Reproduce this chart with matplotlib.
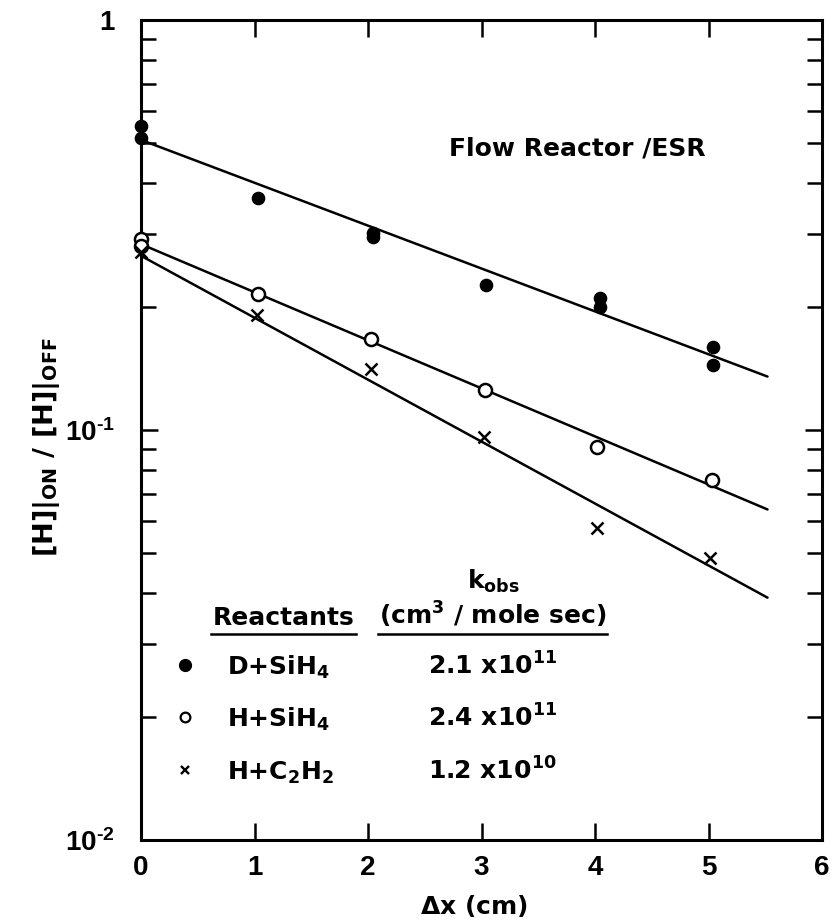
import matplotlib
matplotlib.use("Agg")
import matplotlib.pyplot as plt
from matplotlib.lines import Line2D

plt.rcParams['font.family'] = ['DejaVu Sans']
plt.rcParams['font.weight'] = 'bold'
plt.rcParams['mathtext.fontset'] = 'custom'
plt.rcParams['mathtext.rm'] = 'Liberation Sans:bold'
plt.rcParams['mathtext.bf'] = 'Liberation Sans:bold'
plt.rcParams['mathtext.it'] = 'Liberation Sans:bold'
plt.rcParams['mathtext.default'] = 'bf'

# ---- data ----
x_d_sih4 = [0, 0, 1.03, 2.04, 2.04, 3.04, 4.04, 4.04, 5.04, 5.04]
y_d_sih4 = [0.55, 0.515, 0.368, 0.303, 0.295, 0.226, 0.210, 0.200, 0.159, 0.144]

x_h_sih4 = [0, 0, 1.03, 2.03, 3.03, 4.02, 5.03]
y_h_sih4 = [0.292, 0.281, 0.215, 0.167, 0.125, 0.091, 0.0755]

x_h_c2h2 = [0, 1.02, 2.03, 3.02, 4.02, 5.01]
y_h_c2h2 = [0.272, 0.191, 0.141, 0.0960, 0.0578, 0.0488]

# fitted lines (endpoints)
fit_x = [0, 5.52]
fit_d_sih4 = [0.510, 0.135]
fit_h_sih4 = [0.284, 0.0640]
fit_h_c2h2 = [0.266, 0.0390]

reactants = [r'D+SiH$_4$', r'H+SiH$_4$', r'H+C$_2$H$_2$']
kobs = [r'2.1 x10$^{11}$', r'2.4 x10$^{11}$', r'1.2 x10$^{10}$']

y_ticks = [0.01, 0.1, 1]
y_ticklabels = [r'10$^{\text{-}2}$', r'10$^{\text{-}1}$', '1']
x_ticks = [0, 1, 2, 3, 4, 5, 6]

fig = plt.figure(figsize=(8.32, 9.24), dpi=100)
ax = fig.add_axes([141/832, 1-840/924, (822-141)/832, (840-20)/924])

ax.set_yscale('log')
ax.set_xlim(0, 6)
ax.set_ylim(0.01, 1)

lc = 'black'
for fy_ in (fit_d_sih4, fit_h_sih4, fit_h_c2h2):
    ax.plot(fit_x, fy_, color=lc, lw=1.8, solid_capstyle='round', zorder=2)

ax.plot(x_d_sih4, y_d_sih4, 'o', color='black', ms=8.8, zorder=3, clip_on=False)
ax.plot(x_h_sih4, y_h_sih4, 'o', mfc='white', mec='black', mew=1.8, ms=9.4, zorder=3, clip_on=False)
ax.plot(x_h_c2h2, y_h_c2h2, 'x', color='black', mew=1.8, ms=8, zorder=3, clip_on=False)

for s in ax.spines.values():
    s.set_linewidth(2.2)

ax.set_yticks(y_ticks)
ax.set_yticklabels(y_ticklabels)
ax.set_xticks(x_ticks)
ax.tick_params(axis='both', which='major', direction='in', length=12, width=1.8,
               top=True, right=True, labelsize=20)
ax.tick_params(axis='y', which='minor', direction='in', length=10.5, width=1.8,
               left=True, right=True)
ax.tick_params(axis='x', which='major', pad=11)
ax.tick_params(axis='y', which='major', pad=19)
for lab in ax.get_xticklabels() + ax.get_yticklabels():
    lab.set_fontweight('bold')
    lab.set_fontfamily('Liberation Sans')

ax.set_xlabel(r'$\Delta$x (cm)', fontsize=18, fontweight='bold')
ax.xaxis.set_label_coords((474 - 141) / 681, -(893 - 840) / 820)
ax.xaxis.label.set_math_fontfamily('dejavusans')
ax.set_ylabel(r'[H]$|_{\mathrm{ON}}$ / [H]$|_{\mathrm{OFF}}$', fontsize=19.5,
              fontweight='bold')
ax.yaxis.label.set_math_fontfamily('dejavusans')
ax.yaxis.set_label_coords((62 - 141) / 681, (840 - 447) / 820)

def fx(px):
    return px / 832
def fy(py):
    return 1 - py / 924

fig.text(fx(577), fy(148), 'Flow Reactor /ESR', fontsize=18, fontweight='bold',
         va='center', ha='center')

# table-like legend
fs = 18
mf = 'dejavusans'
fig.text(fx(493), fy(589), r'k$_{\mathrm{obs}}$', fontsize=fs, fontweight='bold',
         ha='center', va='baseline', math_fontfamily=mf)
fig.text(fx(284), fy(625), 'Reactants', fontsize=fs, fontweight='bold',
         ha='center', va='baseline')
fig.text(fx(493), fy(625), r'(cm$^3$ / mole sec)', fontsize=fs, fontweight='bold',
         ha='center', va='baseline', math_fontfamily=mf)
fig.add_artist(Line2D([fx(211), fx(356)], [fy(634), fy(634)], color='black', lw=1.8))
fig.add_artist(Line2D([fx(378), fx(607)], [fy(634), fy(634)], color='black', lw=1.8))

rows_base = [675, 727, 780]
marker_styles = [dict(marker='o', color='black', ms=8.5, ls='none'),
                 dict(marker='o', mfc='white', mec='black', mew=1.6, ms=7, ls='none'),
                 dict(marker='x', color='black', mew=1.7, ms=6, ls='none')]
for rb, rlab, kl, ms in zip(rows_base, reactants, kobs, marker_styles):
    fig.add_artist(Line2D([fx(185)], [fy(rb - 10)], **ms))
    fig.text(fx(227), fy(rb), rlab, fontsize=fs, fontweight='bold', ha='left',
             va='baseline', math_fontfamily=mf)
    fig.text(fx(428), fy(rb), kl, fontsize=fs, fontweight='bold', ha='left',
             va='baseline', math_fontfamily=mf)

fig.savefig('out.png', dpi=100)
